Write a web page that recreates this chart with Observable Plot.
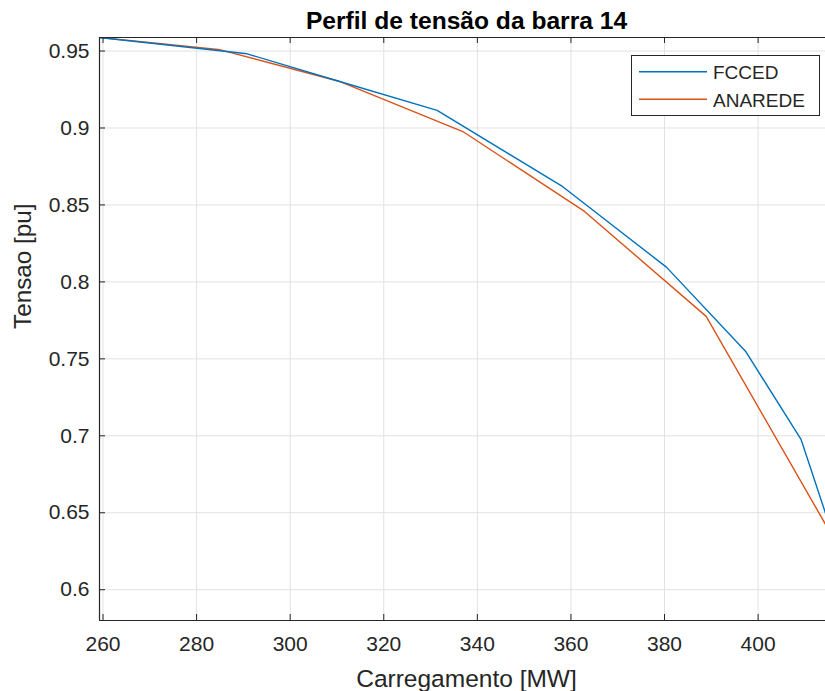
<!DOCTYPE html>
<html><head><meta charset="utf-8">
<script src="https://cdn.jsdelivr.net/npm/d3@7"></script>
<script src="https://cdn.jsdelivr.net/npm/@observablehq/plot@0.6"></script>
<style>
body{margin:0;background:#fff;}
#chart svg{display:block;}
</style></head><body><div id="chart"></div>
<script>
const titleText = "Perfil de tensão da barra 14";
const xLabel = "Carregamento [MW]";
const yLabel = "Tensao [pu]";
const seriesNames = ["FCCED", "ANAREDE"];
const seriesColors = ["#0072BD", "#D95319"];
const fccedX = [259.25, 290.8, 310.4, 331.4, 357.9, 380.4, 397.3, 409.2, 414.4];
const fccedY = [0.9588, 0.9482, 0.9304, 0.9114, 0.8626, 0.8096, 0.755, 0.6975, 0.6497];
const anaredeX = [259.25, 285.1, 310.4, 336.9, 362.9, 388.9, 414.4];
const anaredeY = [0.9588, 0.9508, 0.9304, 0.8977, 0.8458, 0.7776, 0.6425];
const xTicks = [260, 280, 300, 320, 340, 360, 380, 400];
const yTicks = [0.6, 0.65, 0.7, 0.75, 0.8, 0.85, 0.9, 0.95];
const xDomain = [259.25, 414.4];
const yDomain = [0.58, 0.9588];

const W = 825, H = 691, mL = 99, mR = 0, mT = 37, mB = 71;
const fw = W - mL - mR, fh = H - mT - mB;
const font = "'Liberation Sans', Arial, Helvetica, sans-serif";
const ink = "#262626";
const fmt = d => String(+d.toFixed(4));

const fcced = fccedX.map((x, i) => ({x, y: fccedY[i]}));
const anarede = anaredeX.map((x, i) => ({x, y: anaredeY[i]}));

const plot = Plot.plot({
  width: W, height: H,
  marginLeft: mL, marginRight: mR, marginTop: mT, marginBottom: mB,
  style: {fontFamily: font, fontSize: "21px", color: ink, background: "#fff"},
  x: {domain: xDomain, ticks: xTicks, tickFormat: fmt},
  y: {domain: yDomain, ticks: yTicks, tickFormat: fmt},
  marks: [
    Plot.gridX(xTicks, {stroke: "#e2e2e2", strokeOpacity: 1}),
    Plot.gridY(yTicks, {stroke: "#e2e2e2", strokeOpacity: 1}),
    Plot.line(anarede, {x: "x", y: "y", stroke: seriesColors[1], strokeWidth: 1.4, clip: true}),
    Plot.line(fcced, {x: "x", y: "y", stroke: seriesColors[0], strokeWidth: 1.4, clip: true}),
    Plot.ruleX([xDomain[0]], {stroke: ink, strokeWidth: 1.2}),
    Plot.ruleY([yDomain[0]], {stroke: ink, strokeWidth: 1.2}),
    Plot.ruleY([yDomain[1]], {stroke: ink, strokeWidth: 1.2}),
    Plot.tickX(xTicks, {stroke: ink, insetTop: fh - 6}),
    Plot.tickX(xTicks, {stroke: ink, insetBottom: fh - 6}),
    Plot.tickY(yTicks, {stroke: ink, insetRight: fw - 6}),
    Plot.axisX(xTicks, {tickSize: 0, tickPadding: 16, fontSize: 21, label: null, fill: ink, tickFormat: fmt}),
    Plot.axisY(yTicks, {tickSize: 0, tickPadding: 10, fontSize: 21, label: null, fill: ink, tickFormat: fmt}),
    Plot.text([titleText], {frameAnchor: "top", dx: 4, dy: -9, lineAnchor: "bottom", fontSize: 24.6, fontWeight: "bold", fill: "#000"}),
    Plot.text([xLabel], {frameAnchor: "bottom", dx: 4, dy: 66, lineAnchor: "bottom", fontSize: 24.5, fill: ink}),
    Plot.text([yLabel], {frameAnchor: "left", dx: -76, rotate: -90, lineAnchor: "middle", fontSize: 24.3, fill: ink})
  ]
});
document.getElementById("chart").appendChild(plot);

// legend
const svg = d3.select(plot);
const lg = svg.append("g").attr("font-family", font).attr("font-size", 19).attr("fill", ink)
  .attr("text-anchor", "start");
lg.append("rect").attr("x", 631.5).attr("y", 55.5).attr("width", 188).attr("height", 60)
  .attr("fill", "#fff").attr("stroke", ink).attr("stroke-width", 1);
const rowsY = [71.7, 99.3];
seriesNames.forEach((name, i) => {
  lg.append("line").attr("x1", 639).attr("x2", 707).attr("y1", rowsY[i]).attr("y2", rowsY[i])
    .attr("stroke", seriesColors[i]).attr("stroke-width", 1.4);
  lg.append("text").attr("x", 713).attr("y", rowsY[i] + 7.3).attr("text-anchor", "start").text(name);
});
</script></body></html>
